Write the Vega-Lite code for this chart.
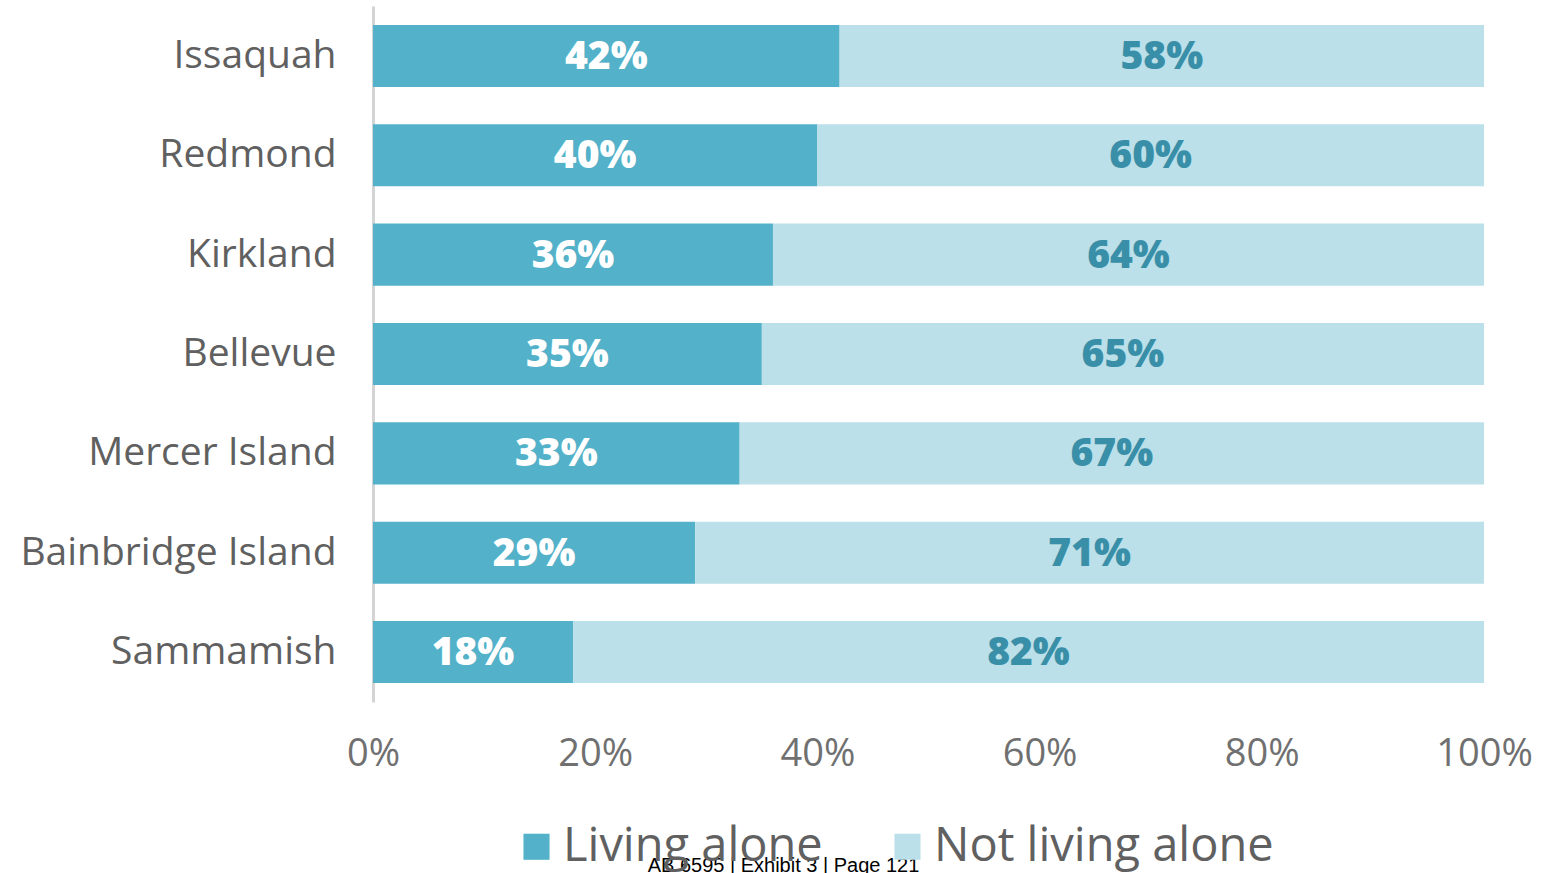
{
  "$schema": "https://vega.github.io/schema/vega-lite/v6.json",
  "width": 1111,
  "height": 696,
  "autosize": {"type": "none"},
  "padding": {"left": 373, "top": 6, "right": 60, "bottom": 171},
  "background": "white",
  "config": {"view": {"stroke": null}},
  "data": {
    "values": [
      {"city": "Issaquah", "status": "Living alone", "value": 0.42},
      {"city": "Issaquah", "status": "Not living alone", "value": 0.58},
      {"city": "Redmond", "status": "Living alone", "value": 0.40},
      {"city": "Redmond", "status": "Not living alone", "value": 0.60},
      {"city": "Kirkland", "status": "Living alone", "value": 0.36},
      {"city": "Kirkland", "status": "Not living alone", "value": 0.64},
      {"city": "Bellevue", "status": "Living alone", "value": 0.35},
      {"city": "Bellevue", "status": "Not living alone", "value": 0.65},
      {"city": "Mercer Island", "status": "Living alone", "value": 0.33},
      {"city": "Mercer Island", "status": "Not living alone", "value": 0.67},
      {"city": "Bainbridge Island", "status": "Living alone", "value": 0.29},
      {"city": "Bainbridge Island", "status": "Not living alone", "value": 0.71},
      {"city": "Sammamish", "status": "Living alone", "value": 0.18},
      {"city": "Sammamish", "status": "Not living alone", "value": 0.82}
    ]
  },
  "encoding": {
    "y": {
      "field": "city",
      "type": "nominal",
      "sort": null,
      "scale": {"paddingInner": 0.375, "paddingOuter": 0.19},
      "axis": {
        "title": null,
        "domain": true,
        "domainColor": "#d4d4d4",
        "domainWidth": 3,
        "ticks": false,
        "labelFont": "Open Sans",
        "labelFontWeight": 400,
        "labelFontSize": 39,
        "labelColor": "#606060",
        "labelPadding": 37,
        "labelLimit": 400
      }
    },
    "x": {
      "field": "value",
      "type": "quantitative",
      "stack": "zero",
      "scale": {"domain": [0, 1]},
      "axis": {
        "format": ".0%",
        "values": [0, 0.2, 0.4, 0.6, 0.8, 1],
        "grid": false,
        "domain": false,
        "ticks": false,
        "labelFont": "Open Sans",
        "labelFontWeight": 400,
        "labelFontSize": 38,
        "labelColor": "#707070",
        "labelPadding": 33,
        "labelFlush": false,
        "title": "AB 6595 | Exhibit 3 | Page 121",
        "titleFont": "Liberation Sans",
        "titleFontSize": 20,
        "titleFontWeight": "normal",
        "titleColor": "#000000",
        "titleX": 410,
        "titleY": 169,
        "titleBaseline": "alphabetic"
      }
    },
    "order": {"field": "status", "type": "nominal", "sort": "ascending"}
  },
  "layer": [
    {
      "mark": {"type": "bar"},
      "encoding": {
        "color": {
          "field": "status",
          "type": "nominal",
          "scale": {"domain": ["Living alone", "Not living alone"], "range": ["#53b1c9", "#bbe0e9"]},
          "legend": {
            "title": null,
            "orient": "none",
            "direction": "horizontal",
            "legendX": 140,
            "legendY": 817,
            "symbolType": "square",
            "symbolSize": 680,
            "symbolStrokeWidth": 0,
            "labelFont": "Open Sans",
            "labelFontWeight": 400,
            "labelFontSize": 47,
            "labelColor": "#606060",
            "labelOffset": 3,
            "labelLimit": 600,
            "columnPadding": 61
          }
        }
      }
    },
    {
      "mark": {"type": "text", "font": "Open Sans", "fontWeight": 800, "fontSize": 39, "baseline": "middle", "align": "center", "dy": 1},
      "encoding": {
        "x": {"field": "value", "type": "quantitative", "stack": "zero", "bandPosition": 0.5},
        "detail": {"field": "status"},
        "text": {"field": "value", "type": "quantitative", "format": ".0%"},
        "color": {
          "condition": {"test": "datum.status === 'Living alone'", "value": "#ffffff"},
          "value": "#3a8fa8"
        }
      }
    }
  ]
}
